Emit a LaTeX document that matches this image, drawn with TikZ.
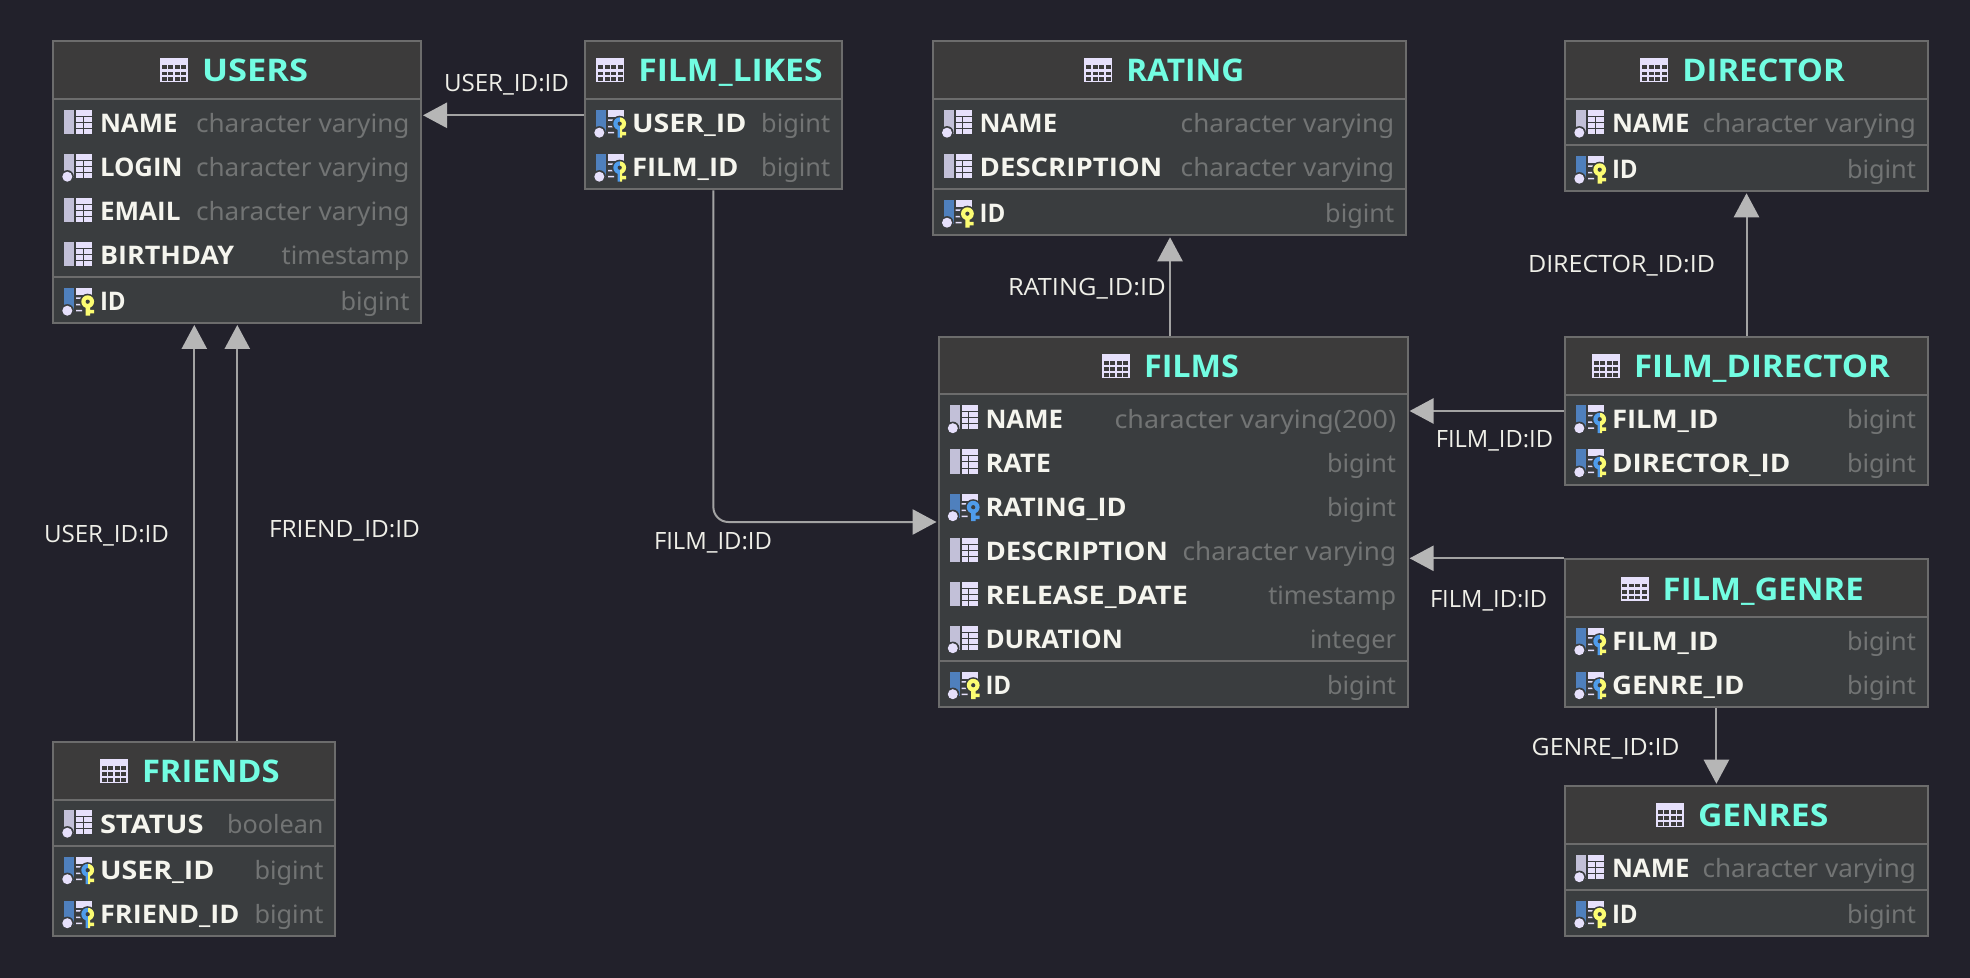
\documentclass[tikz,border=0pt]{standalone}
\usepackage{fontspec}
\usepackage{graphicx}
\setmainfont{Noto Sans}
\newfontfamily\lblf{Open Sans}
\newfontfamily\bldf{Open Sans}
\usetikzlibrary{arrows.meta,fit}
\definecolor{bgc}{HTML}{22212B}
\definecolor{hdrc}{HTML}{3C3B3B}
\definecolor{rowc}{HTML}{3A3D3F}
\definecolor{brd}{HTML}{6C6C6C}
\definecolor{ttl}{HTML}{72FDE2}
\definecolor{nmc}{HTML}{F5F5EE}
\definecolor{typc}{HTML}{727474}
\definecolor{lav}{HTML}{E6E0FB}
\definecolor{barl}{HTML}{C2C0D8}
\definecolor{barb}{HTML}{4F80BD}
\definecolor{keyy}{HTML}{FCFC72}
\definecolor{keyb}{HTML}{4F9CEB}
\definecolor{linec}{HTML}{A3A3A3}
\definecolor{tipc}{HTML}{B6B6B6}
\definecolor{lblc}{HTML}{EFEFE8}
\newsavebox\fitbox
\newcommand\fitw[2]{\sbox\fitbox{#2}\pgfmathsetmacro\fitr{((#1)*0.5pt)/\wd\fitbox}\scalebox{\fitr}[1]{\usebox\fitbox}}
\newcounter{rowno}
\tikzset{
  tablebox/.style={draw=brd,line width=1pt,fill=rowc,inner sep=0pt,rectangle},
  txt/.style={inner sep=0pt,outer sep=0pt,anchor=base west},
  txtr/.style={inner sep=0pt,outer sep=0pt,anchor=base east},
  titletxt/.style={txt,text=ttl,font=\bldf\fontsize{15.6}{18}\bfseries\selectfont},
  nametxt/.style={txt,text=nmc,font=\bldf\fontsize{12.8}{15}\bfseries\selectfont},
  typetxt/.style={txtr,text=typc,font=\fontsize{12.6}{15}\selectfont},
  lbl/.style={txt,text=lblc,font=\lblf\fontsize{11.9}{14}\selectfont},
  conn/.style={draw=linec,line width=1pt,shorten >=0.5pt,-{Triangle[length=12pt,width=12.6pt,color=tipc]}},
}
% ---- column icons (origin at left of icon, vertical centre)
\newcommand\gridplain{\fill[lav] (12,-12) rectangle (28,12);
  \draw[rowc,line width=.5pt] (12,-5.5)--(28,-5.5) (12,.5)--(28,.5) (12,6.5)--(28,6.5) (19,-5.5)--(19,12);}
\newcommand\griddash{\fill[lav] (12,-12) rectangle (28,-5);
  \fill[lav] (12,-2.5) rectangle (19,-1) (12,4) rectangle (18,5.5) (12,10) rectangle (18,11.5);}
\newcommand\dotnn{\fill[rowc] (3.3,10.7) circle (6.6);\fill[lav] (3.3,10.7) circle (5);}
\newcommand\keyshape[1]{\fill[#1] (23.7,1.7) circle (6.4);
  \fill[#1] (21.7,1.7) rectangle (26,15.7) (26,10) rectangle (30,13.5);}
\newcommand\keyhalf{\begin{scope}\clip (10,-12) rectangle (24,20);\keyshape{keyb}\end{scope}
  \begin{scope}\clip (24,-12) rectangle (34,20);\keyshape{keyy}\end{scope}}
\newcommand\keyout{\fill[rowc] (23.7,1.7) circle (8);\fill[rowc] (20.2,1.7) rectangle (27.5,16);}
\newcommand\keyhole{\fill[rowc] (23.7,1.7) circle (2.1);}
\newcommand\icoplain{\fill[barl] (0,-12) rectangle (10,12);\gridplain}
\newcommand\iconn{\fill[barl] (0,-12) rectangle (10,12);\gridplain\dotnn}
\newcommand\icopk{\fill[barb] (0,-12) rectangle (10,12);\griddash\dotnn\keyout\keyshape{keyy}\keyhole}
\newcommand\icofk{\fill[barb] (0,-12) rectangle (10,12);\griddash\dotnn\keyout\keyshape{keyb}\keyhole}
\newcommand\icopf{\fill[barb] (0,-12) rectangle (10,12);\griddash\dotnn\keyout\keyhalf\keyhole}
% ---- table header icon
\newcommand\tblico[2]{\begin{scope}[shift={(#1,#2)}]
  \fill[lav] (0,-12) rectangle (28,12);
  \foreach \cx in {1.7,8.2,14.7,21.2}{\foreach \cy in {-5,1.2,7}{\fill[hdrc] (\cx,\cy) rectangle ++(5,3.8);}}
\end{scope}}
% ---- \tbl{id}{x1}{y1}{x2}{y2}{header line y}{title left x}{title width}{title}
\newcommand\tbl[9]{\def\tl{#2}\def\tr{#4}
  \coordinate (#1-a) at (#2,#3);\coordinate (#1-b) at (#4,#5);
  \node[tablebox,fit=(#1-a)(#1-b)] (#1) {};
  \fill[hdrc] (#2+1,#3+1) rectangle (#4-1,#6);
  \draw[brd,line width=1pt] (#2,#6)--(#4,#6);
  \tblico{#7-43}{#3+29.5}
  \node[titletxt] (#1-title) at (#7-1,#3+41) {\fitw{#8+1}{#9}};}
% ---- \rowline{icon}{y}{name}{name width}{type}{type width}
\newcommand\rowline[6]{\stepcounter{rowno}
  \begin{scope}[shift={(\tl+11,#2-1)}]#1\end{scope}
  \node[nametxt] (rn\therowno) at (\tl+47,#2+10) {\fitw{#4+1.5}{#3}};
  \node[typetxt] (rt\therowno) at (\tr-11.5,#2+10) {\fitw{#6+1.5}{#5}};}
\newcommand\sepline[1]{\draw[brd,line width=1pt] (\tl,#1)--(\tr,#1);}
\newcommand\cv{character varying}
\begin{document}
\begin{tikzpicture}[x=0.5pt,y=-0.5pt]
\useasboundingbox (0,0) rectangle (1970,978);
\fill[bgc] (0,0) rectangle (1970,978);
% USERS
\tbl{users}{53}{41}{421}{323}{99}{203}{105}{USERS}
\rowline{\icoplain}{123}{NAME}{76}{\cv}{212}
\rowline{\iconn}{167}{LOGIN}{81}{\cv}{212}
\rowline{\icoplain}{211}{EMAIL}{79}{\cv}{212}
\rowline{\icoplain}{255}{BIRTHDAY}{132.7}{timestamp}{126.3}
\sepline{277}
\rowline{\icopk}{301}{ID}{24.3}{bigint}{67.5}
% FILM_LIKES
\tbl{likes}{585}{41}{841.7}{189.3}{99}{639.3}{183.3}{FILM\_LIKES}
\rowline{\icopf}{123}{USER\_ID}{113}{bigint}{67.5}
\rowline{\icopf}{167}{FILM\_ID}{105}{bigint}{67.5}
% RATING
\tbl{rating}{932.7}{41}{1405.7}{235.3}{99}{1127.3}{117}{RATING}
\rowline{\iconn}{123}{NAME}{76}{\cv}{212}
\rowline{\icoplain}{167}{DESCRIPTION}{181}{\cv}{212}
\sepline{189}
\rowline{\icopk}{213}{ID}{24.3}{bigint}{67.5}
% DIRECTOR
\tbl{director}{1565}{41}{1927.5}{191.3}{99}{1683.4}{161.3}{DIRECTOR}
\rowline{\iconn}{123}{NAME}{76}{\cv}{212}
\sepline{145}
\rowline{\icopk}{169}{ID}{24.3}{bigint}{67.5}
% FILMS
\tbl{films}{938.5}{336.7}{1407.6}{707.3}{394.5}{1145}{94}{FILMS}
\rowline{\iconn}{418.5}{NAME}{76}{character varying(200)}{280}
\rowline{\icoplain}{462.5}{RATE}{64}{bigint}{67.5}
\rowline{\icofk}{506.5}{RATING\_ID}{139.7}{bigint}{67.5}
\rowline{\icoplain}{550.5}{DESCRIPTION}{181}{\cv}{212}
\rowline{\icoplain}{594.5}{RELEASE\_DATE}{201}{timestamp}{126.3}
\rowline{\iconn}{638.5}{DURATION}{136}{integer}{84.6}
\sepline{661}
\rowline{\icopk}{684.5}{ID}{24.3}{bigint}{67.5}
% FILM_DIRECTOR
\tbl{fdir}{1565}{336.7}{1927.5}{485}{395}{1635}{255}{FILM\_DIRECTOR}
\rowline{\icopf}{418.5}{FILM\_ID}{105}{bigint}{67.5}
\rowline{\icopf}{462.5}{DIRECTOR\_ID}{177}{bigint}{67.5}
% FILM_GENRE
\tbl{fgenre}{1565}{559}{1927.5}{707.3}{617}{1663.7}{200}{FILM\_GENRE}
\rowline{\icopf}{640.5}{FILM\_ID}{105}{bigint}{67.5}
\rowline{\icopf}{684.5}{GENRE\_ID}{131}{bigint}{67.5}
% GENRES
\tbl{genres}{1565}{785.7}{1927.5}{936}{844}{1699}{129.4}{GENRES}
\rowline{\iconn}{867.5}{NAME}{76}{\cv}{212}
\sepline{890}
\rowline{\icopk}{913.5}{ID}{24.3}{bigint}{67.5}
% FRIENDS
\tbl{friends}{53}{741.7}{335}{936}{800}{143}{136.7}{FRIENDS}
\rowline{\iconn}{823}{STATUS}{102}{boolean}{95}
\sepline{846}
\rowline{\icopf}{869.5}{USER\_ID}{113}{bigint}{67.5}
\rowline{\icopf}{913.5}{FRIEND\_ID}{138}{bigint}{67.5}
% connectors
\coordinate (xa) at (194.3,0);
\coordinate (xb) at (237.3,0);
\coordinate (ya) at (0,115.3);
\coordinate (yb) at (0,522);
\coordinate (xc) at (1170,0);
\coordinate (xd) at (1746.5,0);
\coordinate (yc) at (0,411);
\coordinate (yd) at (0,558.3);
\coordinate (xe) at (1716.4,0);
\draw[conn] (friends.north -| xa) -- (users.south -| xa);
\draw[conn] (friends.north -| xb) -- (users.south -| xb);
\draw[conn] (likes.west |- ya) -- (users.east |- ya);
\draw[conn,rounded corners=7.5pt] (likes.south) |- (films.west |- yb);
\draw[conn] (films.north -| xc) -- (rating.south -| xc);
\draw[conn] (fdir.north -| xd) -- (director.south -| xd);
\draw[conn] (fdir.west |- yc) -- (films.east |- yc);
\draw[conn] (fgenre.west |- yd) -- (films.east |- yd);
\draw[conn] (fgenre.south -| xe) -- (genres.north -| xe);
% labels
\node[lbl] (l1) at (444,92) {\fitw{125}{USER\_ID:ID}};
\node[lbl] (l2) at (44,542.7) {\fitw{125}{USER\_ID:ID}};
\node[lbl] (l3) at (269,537.7) {\fitw{151}{FRIEND\_ID:ID}};
\node[lbl] (l4) at (654,549) {\fitw{118}{FILM\_ID:ID}};
\node[lbl] (l5) at (1008,296) {\fitw{157.7}{RATING\_ID:ID}};
\node[lbl] (l6) at (1528,272.7) {\fitw{187}{DIRECTOR\_ID:ID}};
\node[lbl] (l7) at (1435.8,447) {\fitw{117.2}{FILM\_ID:ID}};
\node[lbl] (l8) at (1430,607.7) {\fitw{117.2}{FILM\_ID:ID}};
\node[lbl] (l9) at (1531.6,755) {\fitw{148}{GENRE\_ID:ID}};
\end{tikzpicture}
\end{document}
